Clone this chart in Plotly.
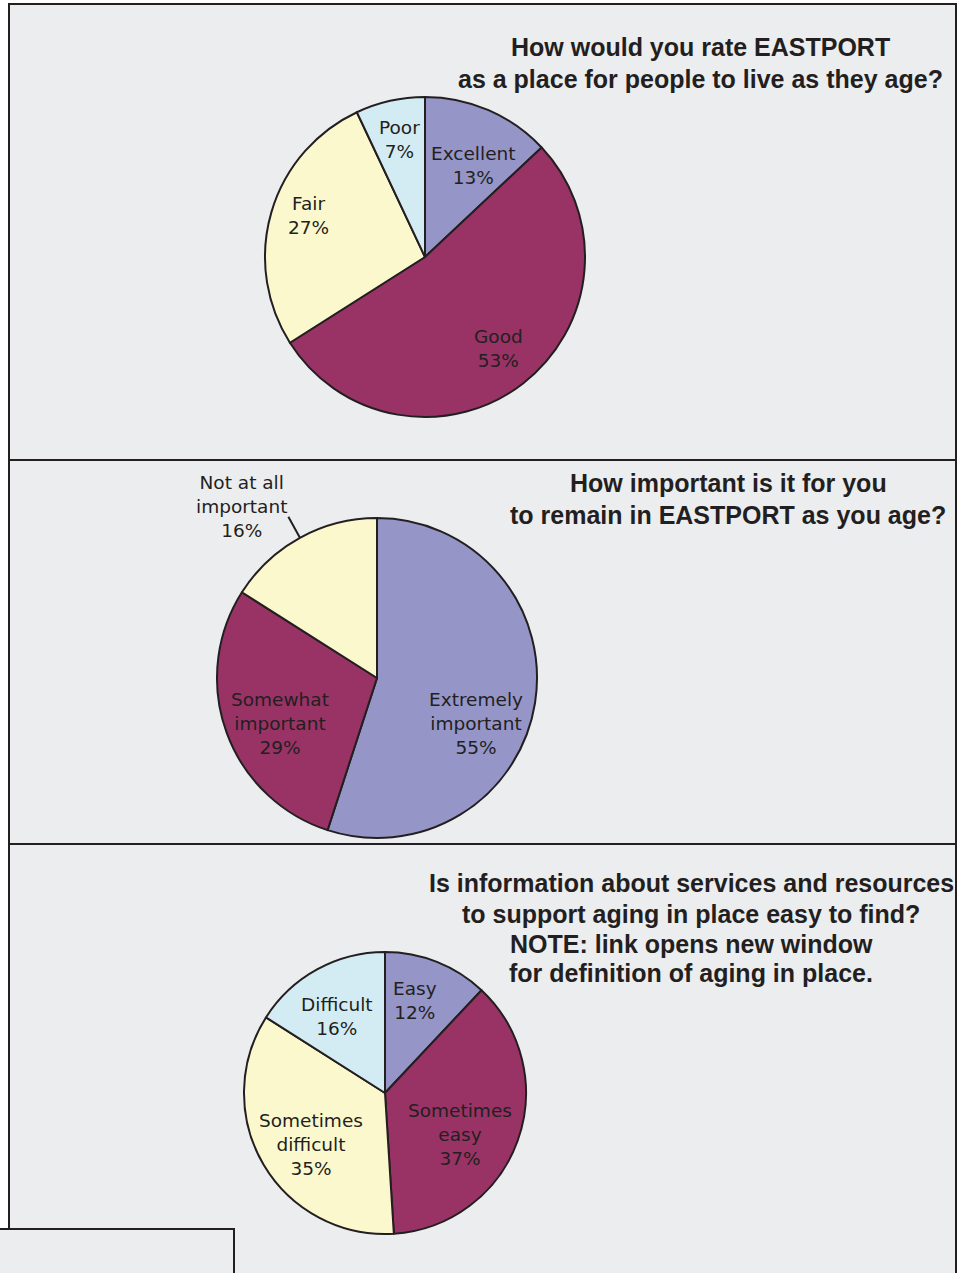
import math
import plotly.graph_objects as go

# ---------------- data ----------------
q1_labels = ["Excellent", "Good", "Fair", "Poor"]
q1_values = [13, 53, 27, 7]
q1_title = ["How would you rate EASTPORT",
            "as a place for people to live as they age?"]

q2_labels = ["Extremely<br>important", "Somewhat<br>important", "Not at all<br>important"]
q2_values = [55, 29, 16]
q2_title = ["How important is it for you",
            "to remain in EASTPORT as you age?"]

q3_labels = ["Easy", "Sometimes<br>easy", "Sometimes<br>difficult", "Difficult"]
q3_values = [12, 37, 35, 16]
q3_title = ["Is information about services and resources",
            "to support aging in place easy to find?",
            "NOTE: link opens new window",
            "for definition of aging in place."]

# ---------------- styles ----------------
W, H = 959, 1273
LAV, MAROON, YELLOW, CYAN = "#9595c8", "#993366", "#fbf8cd", "#d3ecf4"
EDGE = "#231f20"
PANEL_BG = "#ecedef"
TXT = "#231f20"
LABEL_FONT = "DejaVu Sans"
TITLE_FONT = "Liberation Sans"

charts = [
    dict(labels=q1_labels, values=q1_values, title=q1_title,
         colors=[LAV, MAROON, YELLOW, CYAN], cx=425, cy=257, r=160,
         lab_r=[0.65, 0.73, 0.77, 0.75], lab_da=[4.6, -1.0, 3.3, 0.5],
         tx=700, ty=[47, 79], outside=[]),
    dict(labels=q2_labels, values=q2_values, title=q2_title,
         colors=[LAV, MAROON, YELLOW], cx=377, cy=678, r=160,
         lab_r=[0.68, 0.67, 1.15], lab_da=[16.0, -5.5, 0.0],
         tx=728, ty=[483, 515], outside=[2]),
    dict(labels=q3_labels, values=q3_values, title=q3_title,
         colors=[LAV, MAROON, YELLOW, CYAN], cx=385, cy=1093, r=141,
         lab_r=[0.69, 0.61, 0.64, 0.64], lab_da=[-3.7, 9.0, -4.5, -3.1],
         tx=691, ty=[883, 914, 944, 973], outside=[]),
]


def X(px):
    return px / W


def Y(py):
    return 1 - py / H


fig = go.Figure()
shapes = []
annotations = []

# panels
panel_line = dict(color=EDGE, width=2)
for (x0, y0, x1, y1) in [(9, 4, 956, 460), (9, 460, 956, 844), (9, 844, 956, 1290), (-5, 1229, 234, 1290)]:
    shapes.append(dict(type="rect", xref="paper", yref="paper", x0=X(x0), x1=X(x1), y0=Y(y0), y1=Y(y1),
                       fillcolor=PANEL_BG, line=panel_line, layer="below"))

for c in charts:
    cx, cy, r = c["cx"], c["cy"], c["r"]
    fig.add_trace(go.Pie(
        labels=c["labels"], values=c["values"], sort=False, direction="clockwise", rotation=0,
        marker=dict(colors=c["colors"], line=dict(color=EDGE, width=2)),
        textinfo="none", hoverinfo="label+percent", showlegend=False,
        domain=dict(x=[X(cx - r), X(cx + r)], y=[Y(cy + r), Y(cy - r)]),
    ))
    total = sum(c["values"])
    cum = 0
    for i, (lab, v) in enumerate(zip(c["labels"], c["values"])):
        mid = (cum + v / 2) / total * 360.0
        cum += v
        text = f"{lab}<br>{v}%"
        if i in c["outside"]:
            a = math.radians(mid)
            s, co = math.sin(a), math.cos(a)
            x0, y0 = cx + r * s, cy - r * co
            x1, y1 = cx + c["lab_r"][i] * r * s, cy - c["lab_r"][i] * r * co
            shapes.append(dict(type="line", xref="paper", yref="paper",
                               x0=X(x0), y0=Y(y0), x1=X(x1), y1=Y(y1),
                               line=dict(color=EDGE, width=2)))
            annotations.append(dict(x=X(x1), y=Y(y1), xref="paper", yref="paper", text=text,
                                    showarrow=False, xanchor="right", yanchor="middle",
                                    xshift=1, yshift=10, align="center",
                                    font=dict(family=LABEL_FONT, size=18.5, color=TXT)))
        else:
            a = math.radians(mid + c["lab_da"][i])
            px = cx + c["lab_r"][i] * r * math.sin(a)
            py = cy - c["lab_r"][i] * r * math.cos(a)
            annotations.append(dict(x=X(px), y=Y(py), xref="paper", yref="paper", text=text,
                                    showarrow=False, xanchor="center", yanchor="middle",
                                    align="center",
                                    font=dict(family=LABEL_FONT, size=18.5, color=TXT)))
    for line, ty in zip(c["title"], c["ty"]):
        annotations.append(dict(x=X(c["tx"]), y=Y(ty), xref="paper", yref="paper", text=line,
                                showarrow=False, xanchor="center", yanchor="middle",
                                font=dict(family=TITLE_FONT, size=25, color=TXT, weight=700)))

fig.update_layout(
    width=W, height=H, margin=dict(l=0, r=0, t=0, b=0),
    paper_bgcolor="white", plot_bgcolor="white",
    shapes=shapes, annotations=annotations,
)

fig.write_html("out.html", config={"displayModeBar": False},
               post_script="document.body.style.margin='0';document.body.style.overflow='hidden';")
